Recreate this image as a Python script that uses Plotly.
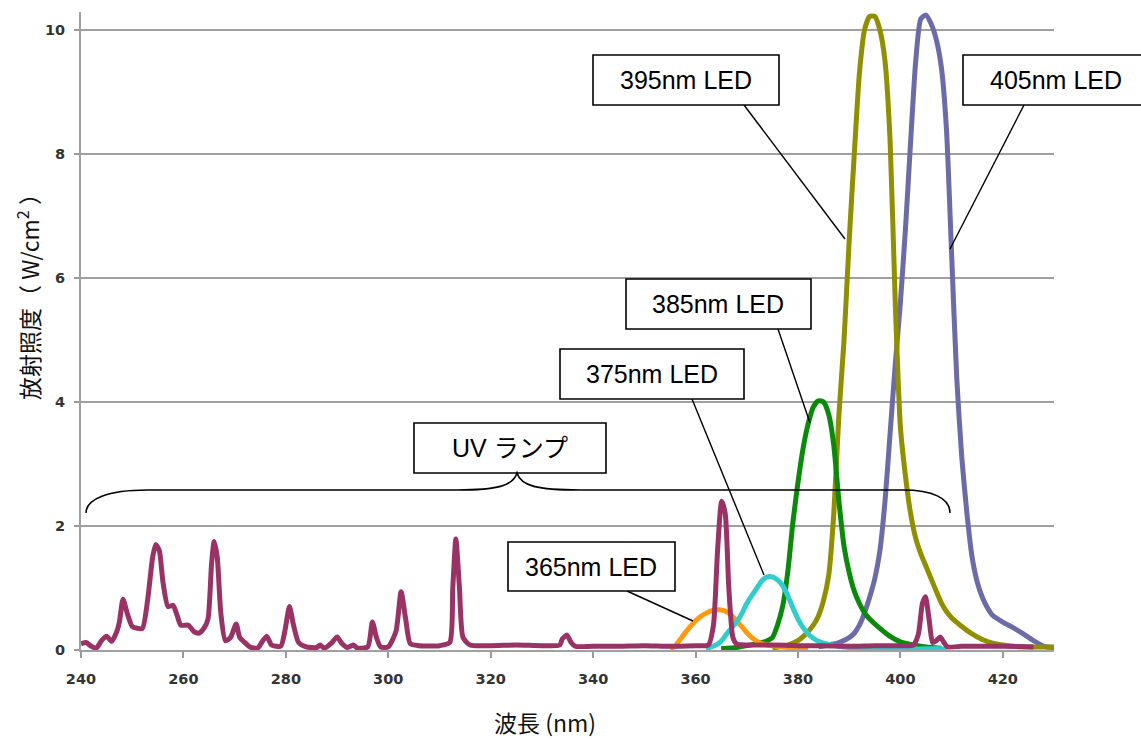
import plotly.graph_objects as go

# ---------------- data ----------------
uv_x = [240, 241, 242, 243, 244, 245, 246, 247, 247.5, 248.2, 249, 250, 251, 252, 253, 254, 254.6, 255.3,
        256, 257, 258, 258.8, 259.5, 261, 262, 263, 264, 264.8, 265.5, 266, 266.6, 267.3, 268.2, 269.2,
        270.3, 271, 272, 273, 274.5, 275.5, 276.3, 277.2, 279, 279.8, 280.7, 281.5, 282.5, 284, 286,
        286.7, 287.5, 289, 290, 291, 292, 293.2, 294, 296, 296.9, 297.7, 298.5, 300, 301.5, 302.5, 303.4,
        304.3, 306, 310, 312, 312.6, 313.2, 313.9, 314.6, 316, 320, 325, 330, 333.5, 334, 334.9, 335.7,
        336.5, 340, 345, 350, 355, 360, 362.5, 363.5, 364.3, 365.1, 365.8, 366.5, 367.3, 368, 370, 375,
        380, 385, 390, 395, 400, 402.5, 403.5, 404.3, 404.9, 405.6, 406.3, 407, 407.8, 408.5, 409.2, 412,
        416, 420, 426]
uv_y = [0.10, 0.12, 0.06, 0.03, 0.15, 0.22, 0.14, 0.30, 0.45, 0.82, 0.60, 0.38, 0.35, 0.35, 0.80, 1.50, 1.70, 1.60,
        1.10, 0.70, 0.72, 0.55, 0.40, 0.40, 0.30, 0.27, 0.35, 0.50, 1.40, 1.75, 1.50, 0.60, 0.15, 0.20,
        0.42, 0.20, 0.12, 0.05, 0.03, 0.15, 0.22, 0.08, 0.06, 0.30, 0.70, 0.40, 0.12, 0.05, 0.04,
        0.08, 0.03, 0.12, 0.21, 0.10, 0.04, 0.08, 0.03, 0.05, 0.45, 0.20, 0.05, 0.05, 0.30, 0.94, 0.50,
        0.10, 0.07, 0.07, 0.12, 1.00, 1.79, 1.00, 0.20, 0.08, 0.07, 0.08, 0.07, 0.08, 0.18, 0.24, 0.12,
        0.06, 0.06, 0.06, 0.07, 0.06, 0.07, 0.08, 0.40, 1.60, 2.40, 2.20, 1.00, 0.20, 0.10, 0.08, 0.08,
        0.07, 0.07, 0.06, 0.07, 0.07, 0.08, 0.25, 0.75, 0.86, 0.50, 0.12, 0.15, 0.21, 0.12, 0.05, 0.06,
        0.06, 0.06, 0.05]

led365_x = [355, 356, 357, 358, 359, 360, 361, 362, 363, 364, 365, 366, 367, 368, 369, 370, 371, 372, 373, 374,
            376, 378, 380, 382]
led365_y = [0.02, 0.06, 0.17, 0.28, 0.38, 0.47, 0.54, 0.59, 0.63, 0.645, 0.645, 0.62, 0.56, 0.47, 0.38, 0.28,
            0.20, 0.14, 0.10, 0.08, 0.06, 0.04, 0.02, 0.01]

led375_x = [362, 364, 365, 366, 367, 368, 369, 370, 371, 372, 373, 374, 375, 376, 377, 378, 379, 380, 381, 382,
            383, 384, 385, 386, 388, 390, 395, 400, 405, 408, 409]
led375_y = [0.02, 0.08, 0.14, 0.25, 0.35, 0.45, 0.58, 0.75, 0.88, 1.00, 1.12, 1.18, 1.18, 1.13, 1.04, 0.88, 0.68,
            0.50, 0.36, 0.26, 0.19, 0.14, 0.11, 0.09, 0.06, 0.04, 0.02, 0.01, 0.02, 0.02, 0.0]

led385_x = [365, 368, 370, 372, 374, 375, 376, 377, 378, 379, 380, 381, 382, 383, 384, 385, 386, 387, 388, 389,
            390, 391, 392, 393, 394, 396, 398, 400, 402, 404, 406, 408]
led385_y = [0.02, 0.04, 0.07, 0.10, 0.15, 0.20, 0.40, 0.70, 1.25, 2.05, 2.70, 3.25, 3.65, 3.92, 4.02, 4.00, 3.80,
            3.30, 2.40, 1.67, 1.25, 0.95, 0.75, 0.60, 0.50, 0.35, 0.22, 0.13, 0.09, 0.06, 0.04, 0.03]

led395_x = [375, 378, 380, 382, 383, 384, 385, 386, 387, 388, 389, 390, 391, 392, 393, 394, 395, 396, 397, 398,
            399, 400, 401, 402, 403, 404, 405, 406, 407, 408, 409, 410, 412, 414, 416, 418, 420, 422, 426, 430]
led395_y = [0.03, 0.08, 0.15, 0.30, 0.40, 0.55, 0.80, 1.20, 2.20, 3.80, 5.00, 6.60, 8.00, 9.30, 10.00, 10.22,
            10.22, 10.00, 9.50, 8.20, 5.60, 3.60, 2.80, 2.20, 1.80, 1.55, 1.35, 1.15, 0.95, 0.76, 0.62, 0.52,
            0.38, 0.26, 0.17, 0.11, 0.08, 0.06, 0.05, 0.05]

led405_x = [384, 386, 388, 390, 391, 392, 393, 394, 395, 396, 397, 398, 399, 400, 401, 402, 403, 404, 405, 406,
            407, 408, 409, 410, 411, 412, 413, 414, 415, 416, 417, 418, 420, 422, 424, 426, 428, 430]
led405_y = [0.05, 0.08, 0.12, 0.20, 0.27, 0.40, 0.60, 0.85, 1.15, 1.60, 2.40, 3.50, 4.60, 5.60, 6.80, 8.20, 9.50,
            10.18, 10.24, 10.10, 9.85, 9.40, 8.40, 6.40, 4.40, 3.10, 2.20, 1.50, 1.10, 0.85, 0.68, 0.56, 0.45,
            0.36, 0.26, 0.15, 0.06, 0.04]

x_ticks = [240, 260, 280, 300, 320, 340, 360, 380, 400, 420]
y_ticks = [0, 2, 4, 6, 8, 10]

labels = ["395nm LED", "405nm LED", "385nm LED", "375nm LED", "365nm LED", "UV ランプ"]

# ---------------- figure ----------------
W, H = 1141, 740
L, R, T, B = 81, 1054, 12, 650


def px(xp):
    return (xp - L) / (R - L)


def py(yp):
    return (B - yp) / (B - T)


fig = go.Figure()
series = [
    (led405_x, led405_y, "#6b6ba8"),
    (led395_x, led395_y, "#8f8f00"),
    (led385_x, led385_y, "#0a8a0a"),
    (led365_x, led365_y, "#ff9a10"),
    (led375_x, led375_y, "#33cccc"),
    (uv_x, uv_y, "#993366"),
]
for xs, ys, col in series:
    fig.add_trace(go.Scatter(x=xs, y=ys, mode="lines",
                             line=dict(color=col, width=5, shape="spline", smoothing=0.6),
                             hoverinfo="skip", showlegend=False))

tickfont = dict(family="DejaVu Sans", size=14.5, color="#333333", weight="bold")
fig.update_xaxes(range=[240, 430], tickvals=x_ticks, ticks="outside", ticklen=6, tickwidth=1.5,
                 tickcolor="#999999", showline=True, linecolor="#a0a0a0", linewidth=2,
                 showgrid=False, zeroline=False, tickfont=tickfont, ticklabelstandoff=9)
fig.update_yaxes(range=[0, 10.29], tickvals=y_ticks, ticks="outside", ticklen=5, tickwidth=1.5,
                 tickcolor="#999999", showline=True, linecolor="#a0a0a0", linewidth=2,
                 showgrid=True, gridcolor="#a0a0a0", gridwidth=1.6, zeroline=False,
                 tickfont=tickfont, ticklabelstandoff=6)

shapes = []
annotations = []
txtfont = dict(family="Liberation Sans, Noto Sans CJK JP", size=25, color="#000000")

# boxes: (label, left, top, right, bottom, text center x)
boxes = [
    (labels[0], 593, 55, 779, 105, 686),
    (labels[1], 963, 55, 1150, 105, 1056),
    (labels[2], 626, 279, 811, 329, 718),
    (labels[3], 560, 349, 744, 399, 652),
    (labels[4], 508, 542, 675, 591, 591),
    (labels[5], 414, 423, 606, 473, 510),
]
# connector lines (pixel coordinates)
conns = [
    (744, 105, 845, 239),
    (1024, 105, 950, 249),
    (778, 329, 810, 423),
    (692, 399, 764, 575),
    (627, 591, 693, 621),
]
for x0, y0, x1, y1 in conns:
    shapes.append(dict(type="line", xref="paper", yref="paper", x0=px(x0), y0=py(y0), x1=px(x1), y1=py(y1),
                       line=dict(color="black", width=1.4), layer="above"))
for lab, l, t, r, b, cx in boxes:
    shapes.append(dict(type="rect", xref="paper", yref="paper", x0=px(l), y0=py(b), x1=px(r), y1=py(t),
                       line=dict(color="black", width=1.6), fillcolor="white", layer="above"))
    annotations.append(dict(text=lab, xref="paper", yref="paper", x=px(cx), y=py((t + b) / 2),
                            xanchor="center", yanchor="middle", showarrow=False, font=txtfont))

# brace under "UV ランプ"
pts = [
    ("M", [(86, 513)]),
    ("C", [(86, 499), (108, 490), (147, 490)]),
    ("L", [(457, 490)]),
    ("C", [(497, 490), (513, 486), (517, 473)]),
    ("C", [(521, 486), (537, 490), (580, 490)]),
    ("L", [(903, 490)]),
    ("C", [(932, 490), (950, 498), (950, 513)]),
]
path = ""
for cmd, ps in pts:
    path += cmd + " " + " ".join(f"{px(a):.5f},{py(b):.5f}" for a, b in ps) + " "
shapes.append(dict(type="path", xref="paper", yref="paper", path=path.strip(),
                   line=dict(color="black", width=1.6), layer="above"))

# axis titles
annotations.append(dict(text="波長 (nm)", xref="paper", yref="paper", x=px(545), y=py(722),
                        xanchor="center", yanchor="middle", showarrow=False,
                        font=dict(family="Noto Sans CJK JP", size=23, color="#111111")))
annotations.append(dict(text="放射照度（ W/cm<sup>2</sup> ）", xref="paper", yref="paper", x=px(28), y=py(291),
                        xanchor="center", yanchor="middle", showarrow=False, textangle=-90,
                        font=dict(family="Noto Sans CJK JP", size=23, color="#111111")))

fig.update_layout(width=W, height=H, autosize=False,
                  margin=dict(l=L, r=W - R, t=T, b=H - B),
                  plot_bgcolor="white", paper_bgcolor="white",
                  shapes=shapes, annotations=annotations)

fig.write_html("out.html", config={"displayModeBar": False},
               post_script="document.body.style.margin='0';document.body.style.padding='0';")
